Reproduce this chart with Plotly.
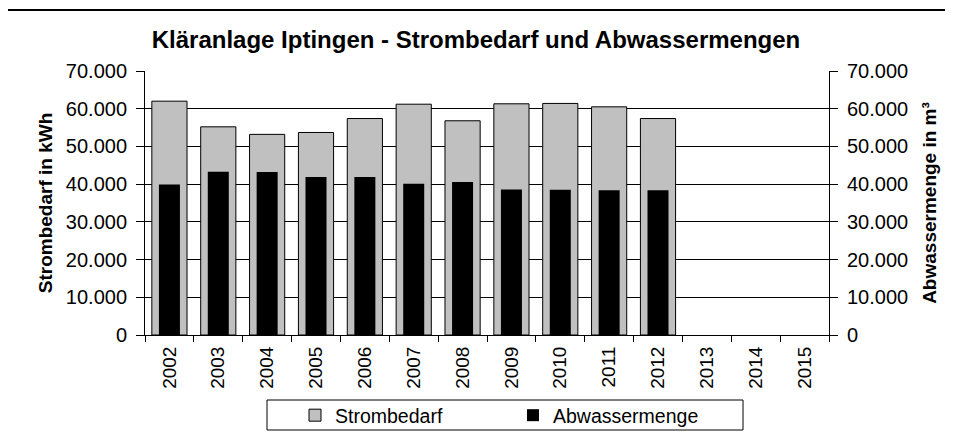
import plotly.graph_objects as go

# ----------------------------------------------------------
# Data
# ----------------------------------------------------------
years = ["2002", "2003", "2004", "2005", "2006", "2007", "2008",
         "2009", "2010", "2011", "2012", "2013", "2014", "2015"]

strombedarf = [62000, 55200, 53200, 53700, 57400, 61200, 56800,
               61300, 61400, 60500, 57400, None, None, None]

abwassermenge = [39900, 43300, 43200, 41900, 41900, 40100, 40600,
                 38600, 38500, 38400, 38400, None, None, None]

y_ticks = [0, 10000, 20000, 30000, 40000, 50000, 60000, 70000]

FONT = "Liberation Sans, Arial, sans-serif"
GRAY = "#C0C0C0"

W, H = 953, 444
OFF = 8  # default body margin of the html page

# plot area in screen pixels: x 145..829, y 71..335
PL, PR, PT, PB = 145, 829, 71, 335
L = PL - OFF
R = W - (PR - OFF)
T = PT - OFF
B = H - (PB - OFF)


def px_x(x):
    return (x - PL) / (PR - PL)


def px_y(y):
    return (PB - y) / (PB - PT)


fig = go.Figure()

fig.add_trace(go.Bar(
    x=years,
    y=strombedarf,
    name="Strombedarf",
    width=0.72,
    marker=dict(color=GRAY, line=dict(color="black", width=1)),
))

fig.add_trace(go.Bar(
    x=years,
    y=abwassermenge,
    name="Abwassermenge",
    yaxis="y2",
    width=0.43,
    marker=dict(color="black", line=dict(width=0)),
))

axis_common = dict(
    range=[0, 70000],
    tickvals=y_ticks,
    tickformat=",d",
    ticks="outside",
    ticklen=8,
    tickcolor="black",
    ticklabelstandoff=5,
    showline=True,
    linecolor="black",
    linewidth=1,
    tickfont=dict(family=FONT, size=20, color="black"),
    zeroline=False,
    fixedrange=True,
)

fig.update_layout(
    width=W,
    height=H,
    autosize=False,
    margin=dict(l=L, r=R, t=T, b=B),
    paper_bgcolor="white",
    plot_bgcolor="white",
    separators=",.",
    barmode="overlay",
    showlegend=True,
    font=dict(family=FONT, color="black"),
    title=dict(
        text="<b>Kläranlage Iptingen - Strombedarf und Abwassermengen</b>",
        x=(476 - OFF) / W,
        xanchor="center",
        y=1 - (40 - OFF) / H,
        yanchor="middle",
        font=dict(family=FONT, size=24, color="black"),
    ),
    xaxis=dict(
        type="category",
        range=[-0.5, 13.5],
        tickangle=-90,
        tickson="boundaries",
        ticks="outside",
        ticklen=6,
        tickcolor="black",
        ticklabelstandoff=3,
        showline=True,
        linecolor="black",
        showgrid=False,
        tickfont=dict(family=FONT, size=19, color="black"),
        fixedrange=True,
    ),
    yaxis=dict(
        **axis_common,
        showgrid=True,
        gridcolor="black",
        gridwidth=1,
        title=dict(
            text="<b>Strombedarf in kWh</b>",
            font=dict(family=FONT, size=19, color="black"),
            standoff=8,
        ),
    ),
    yaxis2=dict(
        **axis_common,
        overlaying="y",
        side="right",
        showgrid=False,
        title=dict(
            text="<b>Abwassermenge in m³</b>",
            font=dict(family=FONT, size=19, color="black"),
            standoff=15,
        ),
    ),
    legend=dict(
        orientation="h",
        x=px_x(295),
        xanchor="left",
        y=px_y(396),
        yanchor="top",
        bgcolor="rgba(0,0,0,0)",
        borderwidth=0,
        entrywidth=173,
        font=dict(family=FONT, size=19.5, color="black"),
        itemclick=False,
        itemdoubleclick=False,
    ),
    shapes=[
        # outer chart frame
        dict(type="rect", xref="paper", yref="paper",
             x0=px_x(7), x1=px_x(970), y0=px_y(460), y1=px_y(10),
             line=dict(color="black", width=2), fillcolor="rgba(0,0,0,0)",
             layer="below"),
        # legend box
        dict(type="rect", xref="paper", yref="paper",
             x0=px_x(267), x1=px_x(743), y0=px_y(430), y1=px_y(400),
             line=dict(color="black", width=1), fillcolor="white",
             layer="below"),
    ],
)

fig.write_html("out.html")
